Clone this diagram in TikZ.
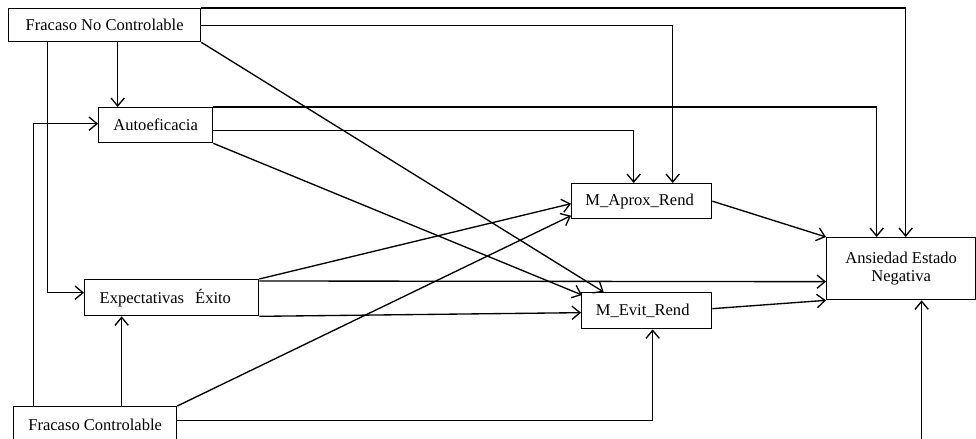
\documentclass[tikz,border=0pt]{standalone}
\usepackage{fontspec}
\setmainfont{Liberation Serif}
\usetikzlibrary{arrows.meta,calc}
\begin{document}
\begin{tikzpicture}[x=0.75pt,y=-0.75pt,
 box/.style={draw, line width=1pt, anchor=north west, inner sep=0pt, font=\fontsize{12.4}{13.5}\selectfont, align=center},
 arr/.style={line width=1pt, -{Straight Barb[length=6pt,width=10pt,line width=1pt]}},
 ln/.style={line width=1pt}]
\useasboundingbox (0,0) rectangle (976,439);
\clip (0,0) rectangle (976,439);
% nodes
\node[box, minimum width=144pt, minimum height=24.75pt] (fnc) at (8,8) {Fracaso No Controlable};
\node[box, minimum width=85.5pt, minimum height=26.25pt] (auto) at (98,107) {Autoeficacia};
\node[box, align=left, text width=108pt, inner xsep=11.25pt, minimum height=27pt] (exp) at (84,279) {Expectativas\ \ Éxito};
\node[box, minimum width=122.25pt, minimum height=27.75pt] (fc) at (13,406) {Fracaso Controlable};
\node[box, minimum width=105pt, minimum height=26.25pt] (ma) at (571,183) {M\_Aprox\_Rend\hspace{3pt}};
\node[box, minimum width=97.5pt, minimum height=27pt] (me) at (581,292) {M\_Evit\_Rend\hspace{6pt}};
\node[box, minimum width=111.75pt, minimum height=46.5pt] (aen) at (826,237) {Ansiedad Estado\\Negativa};
% helper coordinates
\coordinate (fncA) at ($(fnc.south)+(13,0)$);
\coordinate (fncB) at ($(fnc.south)+(-57,0)$);
\coordinate (fcA) at ($(fc.north)+(26.5,0)$);
\coordinate (fcB) at ($(fc.north)+(-61.5,0)$);
\coordinate (aenA) at ($(aen.north)+(4.5,0)$);
\coordinate (aenB) at ($(aen.north)+(-24.5,0)$);
\coordinate (aenC) at ($(aen.south)+(20.5,0)$);
\coordinate (bottomEnd) at (aenC |- 0,445);
\coordinate (maA) at ($(ma.north)+(31,0)$);
\coordinate (maB) at ($(ma.north)+(-8,0)$);
\coordinate (meA) at ($(me.south)+(6,0)$);
% connectors from Fracaso No Controlable
\draw[arr] (fnc.north east) -| (aenA);
\draw[arr] (fnc.east) -| (maA);
\draw[arr] (fnc.south east) -- ($(me.north)+(-43,0)$);
\draw[arr] (fncA) -- (fncA |- auto.north);
\draw[arr] (fncB) |- ($(exp.west)+(0,-5)$);
% from Autoeficacia
\draw[arr] (auto.north east) -| (aenB);
\draw[arr] ($(auto.east)+(0,5.5)$) -| (maB);
\draw[arr] (auto.south east) -- ($(me.north west)+(1,3)$);
% from Expectativas
\draw[arr] (exp.north east) -- ($(ma.west)+(0,2.5)$);
\draw[arr] ($(exp.north east)+(0,2)$) -- ($(aen.west)+(0,13)$);
\draw[arr] (exp.south east) -- ($(me.west)+(0,2)$);
% from Fracaso Controlable
\draw[arr] (fc.north east) -- ($(ma.west)+(0,14.5)$);
\draw[arr] ($(fc.east)+(0,-4.5)$) -| (meA);
\draw[arr] (fcA) -- (fcA |- exp.south);
\draw[arr] (fcB) |- ($(auto.west)+(0,-1.5)$);
% to Ansiedad
\draw[arr] (ma.east) -- (aen.north west);
\draw[arr] ($(me.east)+(0,-2)$) -- (aen.south west);
\draw[arr] (bottomEnd) -- (aenC);
\end{tikzpicture}
\end{document}
